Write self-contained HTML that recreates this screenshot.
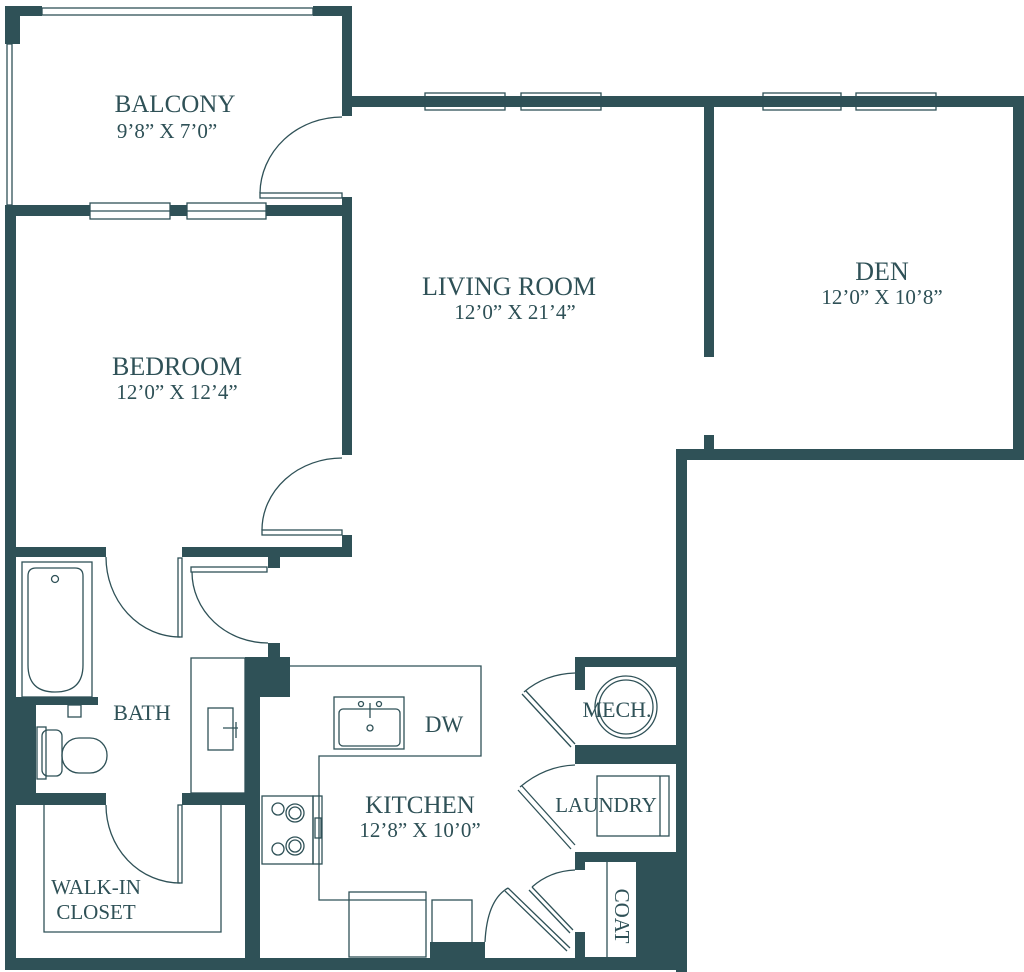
<!DOCTYPE html>
<html><head><meta charset="utf-8"><style>
html,body{margin:0;padding:0;background:#fff;}
svg{display:block;}
text{font-family:"Liberation Serif",serif;fill:#2f5157;text-anchor:middle;}
</style></head><body>
<svg width="1024" height="972" viewBox="0 0 1024 972" xmlns="http://www.w3.org/2000/svg">
<g fill="#2f5157">
<rect x="5" y="6" width="37" height="10"/><rect x="5" y="6" width="15" height="38"/>
<rect x="313" y="6" width="39" height="10"/><rect x="342" y="6" width="10" height="110"/>
<rect x="342" y="97" width="18" height="10"/>
<rect x="5" y="205" width="85" height="11"/><rect x="170" y="205" width="17" height="11"/><rect x="266" y="205" width="86" height="11"/>
<rect x="342" y="197" width="10" height="258"/>
<rect x="342" y="96" width="682" height="11"/>
<rect x="704" y="96" width="10" height="261"/><rect x="704" y="435" width="10" height="20"/>
<rect x="676" y="449" width="348" height="11"/><rect x="1013" y="96" width="11" height="364"/>
<rect x="676" y="449" width="11" height="523"/>
<rect x="5" y="205" width="11" height="765"/>
<rect x="5" y="697" width="31" height="108"/>
<rect x="342" y="535" width="10" height="22"/>
<rect x="5" y="547" width="101" height="10"/><rect x="182" y="547" width="170" height="10"/>
<rect x="268" y="557" width="12" height="11"/>
<rect x="268" y="643" width="12" height="14"/>
<rect x="245" y="657" width="45" height="40"/><rect x="245" y="657" width="15" height="305"/>
<rect x="22" y="697" width="76" height="8"/>
<rect x="5" y="793" width="101" height="12"/><rect x="182" y="793" width="68" height="12"/>
<rect x="5" y="958" width="585" height="12"/>
<rect x="430" y="942" width="55" height="18"/>
<rect x="575" y="657" width="112" height="10"/><rect x="575" y="657" width="10" height="33"/>
<rect x="575" y="745" width="112" height="19"/>
<rect x="575" y="852" width="112" height="10"/><rect x="575" y="852" width="10" height="18"/>
<rect x="575" y="932" width="10" height="38"/>
<rect x="636" y="852" width="51" height="118"/>
<rect x="575" y="957" width="112" height="13"/>
</g>
<g fill="none" stroke="#2f5157" stroke-width="1.3">
<rect x="42" y="8" width="271" height="7"/>
<rect x="7" y="44" width="5" height="161"/>
<rect x="90" y="203" width="80" height="16"/><line x1="90" y1="211" x2="170" y2="211"/>
<rect x="187" y="203" width="79" height="16"/><line x1="187" y1="211" x2="266" y2="211"/>
<rect x="425" y="93" width="80" height="17"/><line x1="425" y1="101" x2="505" y2="101"/>
<rect x="521" y="93" width="80" height="17"/><line x1="521" y1="101" x2="601" y2="101"/>
<rect x="763" y="93" width="78" height="17"/><line x1="763" y1="101" x2="841" y2="101"/>
<rect x="856" y="93" width="80" height="17"/><line x1="856" y1="101" x2="936" y2="101"/>
<rect x="260" y="193" width="82" height="5"/><path d="M260 193 A82 77 0 0 1 342 117"/>
<rect x="262" y="530" width="80" height="5"/><path d="M262 530 A80 72 0 0 1 342 458"/>
<rect x="178" y="558" width="4" height="79"/><path d="M106 557 A74 80 0 0 0 180 637"/>
<rect x="191" y="567" width="76" height="5"/><path d="M192 572 A76 71 0 0 0 268 643"/>
<rect x="22" y="562" width="70" height="135"/>
<path d="M36 568 H75 Q83 568 83 576 V665 Q83 692 55 692 Q28 692 28 665 V576 Q28 568 36 568 Z"/>
<circle cx="55" cy="579" r="3.5"/>
<rect x="68" y="705" width="13" height="12"/>
<rect x="37" y="727" width="9" height="52"/>
<rect x="42" y="730" width="20" height="46" rx="6"/>
<rect x="62" y="738" width="45" height="35" rx="17"/>
<rect x="191" y="658" width="54" height="135"/>
<rect x="208" y="708" width="25" height="42"/>
<path d="M223 728 H238 M236 722 V738"/>
<path d="M44 805 V932 H221 V805"/>
<rect x="178" y="805" width="4" height="78"/><path d="M106 805 A74 78 0 0 0 180 883"/>
<path d="M290 666 H481 V756 H319 V900 H349"/>
<rect x="334" y="697" width="70" height="52"/>
<rect x="339" y="709" width="61" height="37" rx="4"/>
<circle cx="361" cy="704" r="2.5"/><circle cx="379" cy="704" r="2.5"/><circle cx="370" cy="728" r="3"/>
<line x1="370" y1="703" x2="370" y2="718"/>
<rect x="262" y="796" width="51" height="68"/>
<rect x="313" y="796" width="9" height="68"/>
<circle cx="278" cy="809" r="6"/><circle cx="295" cy="813" r="9"/><circle cx="295" cy="813" r="6"/>
<circle cx="278" cy="849" r="6"/><circle cx="295" cy="846" r="9"/><circle cx="295" cy="846" r="6"/>
<rect x="315" y="818" width="6" height="20"/>
<rect x="349" y="892" width="77" height="65"/><line x1="349" y1="900" x2="426" y2="900"/>
<rect x="432" y="900" width="40" height="45"/>
<path d="M485 942 Q487 900 508 888"/>
<path d="M508 888 L570 948 M505 891 L567 951"/>
<path d="M532 887 Q550 871 575 870"/>
<path d="M532 887 L573 930 M529 890 L570 933"/>
<line x1="607" y1="862" x2="607" y2="957"/>
<path d="M520 787 Q545 766 575 765"/>
<path d="M522 786 L575 845 M518 790 L571 849"/>
<rect x="597" y="776" width="72" height="60"/><line x1="660" y1="776" x2="660" y2="836"/>
<path d="M524 692 Q545 674 575 673"/>
<path d="M526 691 L575 744 M522 694 L571 747"/>
<circle cx="626" cy="707" r="31"/><circle cx="626" cy="707" r="27"/>
</g>
<text x="175" y="112" font-size="25">BALCONY</text>
<text x="167" y="138" font-size="21">9’8” X 7’0”</text>
<text x="509" y="295" font-size="26">LIVING ROOM</text>
<text x="515" y="319" font-size="21">12’0” X 21’4”</text>
<text x="882" y="280" font-size="26">DEN</text>
<text x="882" y="304" font-size="21">12’0” X 10’8”</text>
<text x="177" y="375" font-size="26">BEDROOM</text>
<text x="177" y="399" font-size="21">12’0” X 12’4”</text>
<text x="142" y="720" font-size="22">BATH</text>
<text x="444" y="732" font-size="23">DW</text>
<text x="617" y="717" font-size="22">MECH.</text>
<text x="420" y="813" font-size="25">KITCHEN</text>
<text x="420" y="837" font-size="21">12’8” X 10’0”</text>
<text x="606" y="812" font-size="21">LAUNDRY</text>
<text x="96" y="894" font-size="21">WALK-IN</text>
<text x="96" y="919" font-size="21">CLOSET</text>
<text x="0" y="0" font-size="21" transform="translate(615,916) rotate(90)">COAT</text>
</svg>
</body></html>
